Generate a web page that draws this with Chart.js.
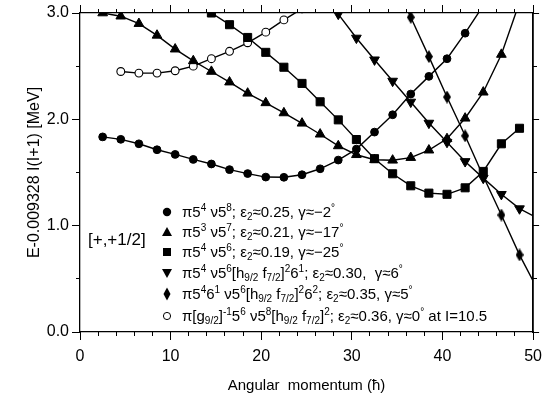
<!DOCTYPE html>
<html><head><meta charset="utf-8">
<script src="https://cdn.jsdelivr.net/npm/chart.js@4/dist/chart.umd.min.js"></script>
<style>
html,body{margin:0;padding:0;background:#fff;}
#wrap{position:relative;width:549px;height:403px;font-family:"Liberation Sans",Arial,sans-serif;color:#000;}
#c{position:absolute;left:0;top:0;}
.row{position:absolute;left:160px;height:20px;line-height:20px;font-size:15px;white-space:nowrap;}
.row svg{position:absolute;left:0;top:3px;}
.row .t{position:absolute;left:22px;top:0;}
sup{font-size:10px;vertical-align:0;position:relative;top:-6px;}
sub{font-size:10px;vertical-align:0;position:relative;top:3px;}
#sig{position:absolute;left:88px;top:230px;font-size:17px;line-height:20px;white-space:nowrap;}
</style></head><body>
<div id="wrap"><canvas id="c" width="549" height="403"></canvas><div id="sig">[+,+1/2]</div></div>
<script>
// ---- data ----
const circleI = [2.5,4.5,6.5,8.5,10.5,12.5,14.5,16.5,18.5,20.5,22.5,24.5,26.5,28.5,30.5,32.5,34.5,36.5,38.5,40.5,42.5,44.5];
const circleE = [1.835,1.812,1.77,1.714,1.67,1.623,1.58,1.527,1.49,1.457,1.455,1.479,1.535,1.617,1.72,1.88,2.043,2.238,2.404,2.57,2.81,3.07];

const triUpI = [2.5,4.5,6.5,8.5,10.5,12.5,14.5,16.5,18.5,20.5,22.5,24.5,26.5,28.5,30.5,32.5,34.5,36.5,38.5,40.5,42.5,44.5,46.5,48.5];
const triUpE = [3.0,2.97,2.90,2.79,2.66,2.55,2.45,2.35,2.245,2.155,2.06,1.963,1.86,1.75,1.667,1.62,1.615,1.64,1.71,1.817,2.01,2.255,2.61,3.1];

const squareI = [14.5,16.5,18.5,20.5,22.5,24.5,26.5,28.5,30.5,32.5,34.5,36.5,38.5,40.5,42.5,44.5,46.5,48.5];
const squareE = [3.0,2.89,2.77,2.63,2.49,2.338,2.165,1.995,1.81,1.63,1.488,1.375,1.306,1.295,1.356,1.51,1.77,1.916];

const triDownI = [26.5,28.5,30.5,32.5,34.5,36.5,38.5,40.5,42.5,44.5,46.5,48.5,50.5];
const triDownE = [3.2,2.99,2.765,2.56,2.36,2.163,1.965,1.785,1.604,1.447,1.295,1.16,1.07];

const diamondI = [34.5,36.5,38.5,40.5,42.5,44.5,46.5,48.5,50.5];
const diamondE = [3.33,2.96,2.59,2.21,1.845,1.465,1.10,0.725,0.40];

const openI = [4.5,6.5,8.5,10.5,12.5,14.5,16.5,18.5,20.5,22.5,24.5];
const openE = [2.45,2.435,2.435,2.457,2.50,2.57,2.64,2.72,2.82,2.935,3.04];

const legendLabels = [
  'π5<sup>4</sup> ν5<sup>8</sup>; ε<sub>2</sub>≈0.25, γ≈−2<sup>°</sup>',
  'π5<sup>3</sup> ν5<sup>7</sup>; ε<sub>2</sub>≈0.21, γ≈−17<sup>°</sup>',
  'π5<sup>4</sup> ν5<sup>6</sup>; ε<sub>2</sub>≈0.19, γ≈−25<sup>°</sup>',
  'π5<sup>4</sup> ν5<sup>6</sup>[h<sub>9/2</sub> f<sub>7/2</sub>]<sup>2</sup>6<sup>1</sup>; ε<sub>2</sub>≈0.30,&nbsp; γ≈6<sup>°</sup>',
  'π5<sup>4</sup>6<sup>1</sup> ν5<sup>6</sup>[h<sub>9/2</sub> f<sub>7/2</sub>]<sup>2</sup>6<sup>2</sup>; ε<sub>2</sub>≈0.35, γ≈5<sup>°</sup>',
  'π[g<sub>9/2</sub>]<sup>-1</sup>5<sup>6</sup> ν5<sup>8</sup>[h<sub>9/2</sub> f<sub>7/2</sub>]<sup>2</sup>; ε<sub>2</sub>≈0.36, γ≈0<sup>°</sup> at I=10.5'
];
const xTitle = 'Angular  momentum (ħ)';
const yTitle = 'E-0.009328 I(I+1) [MeV]';

// ---- styles ----
const FONT = "'Liberation Sans', Arial, sans-serif";
const legendRowY = [212, 232, 252, 273, 294, 316];
const legendSvg = [
  '<circle cx="7" cy="7" r="4.2" fill="#000"/>',
  '<polygon points="7,2 12,11 2,11" fill="#000"/>',
  '<rect x="3" y="3" width="8" height="8" fill="#000"/>',
  '<polygon points="2,3 12,3 7,12" fill="#000"/>',
  '<polygon points="7,0.5 10.5,7 7,13.5 3.5,7" fill="#000"/>',
  '<circle cx="7" cy="7" r="3.6" fill="#fff" stroke="#000" stroke-width="1"/>'
];

function makeDiamond(w, h) {
  const c = document.createElement('canvas');
  c.width = w; c.height = h;
  const g = c.getContext('2d');
  g.fillStyle = '#000';
  g.beginPath();
  g.moveTo(w / 2, 0); g.lineTo(w, h / 2); g.lineTo(w / 2, h); g.lineTo(0, h / 2);
  g.closePath(); g.fill();
  return c;
}

function pts(I, E) { return I.map((x, i) => ({x: x, y: E[i]})); }

function series(I, E, style) {
  return Object.assign({
    data: pts(I, E),
    borderColor: '#000',
    borderWidth: 1.4,
    pointBorderColor: '#000',
    pointBackgroundColor: '#000',
    pointBorderWidth: 1,
    tension: 0,
    clip: 0,
    xAxisID: 'x', yAxisID: 'y'
  }, style);
}

const wrap = document.getElementById('wrap');
legendLabels.forEach((txt, i) => {
  const d = document.createElement('div');
  d.className = 'row';
  d.style.top = (legendRowY[i] - 10) + 'px';
  d.innerHTML = '<svg width="14" height="14" viewBox="0 0 14 14">' + legendSvg[i] + '</svg><span class="t">' + txt + '</span>';
  wrap.appendChild(d);
});

const black = '#000';
function minorAxis(axis, pos, min, max, step, len) {
  return {
    type: 'linear', axis: axis, position: pos, min: min, max: max,
    ticks: {display: false, stepSize: step},
    grid: {drawOnChartArea: false, drawTicks: true, tickLength: len, color: black, lineWidth: 1},
    border: {display: false}
  };
}

new Chart(document.getElementById('c'), {
  type: 'line',
  data: {
    datasets: [
      series(circleI, circleE, {pointStyle: 'circle', pointRadius: 3.9}),
      series(triUpI, triUpE, {pointStyle: 'triangle', pointRadius: 5.6}),
      series(squareI, squareE, {pointStyle: 'rect', pointRadius: 5.7}),
      series(triDownI, triDownE, {pointStyle: 'triangle', pointRotation: 180, pointRadius: 5.6}),
      series(diamondI, diamondE, {pointStyle: makeDiamond(8, 13), pointRadius: 5}),
      series(openI, openE, {pointStyle: 'circle', pointRadius: 3.9, pointBackgroundColor: '#fff', pointBorderWidth: 1.1})
    ]
  },
  options: {
    responsive: false,
    animation: false,
    events: [],
    layout: {padding: 0},
    plugins: {legend: {display: false}, tooltip: {enabled: false}},
    scales: {
      x: {
        type: 'linear', position: 'bottom', min: 0, max: 50,
        ticks: {stepSize: 10, color: black, font: {family: FONT, size: 16}, padding: 7, maxRotation: 0, autoSkip: false},
        grid: {drawOnChartArea: false, tickLength: 8, color: black},
        border: {color: black, width: 1.3},
        title: {display: true, text: xTitle, color: black, font: {family: FONT, size: 15, lineHeight: 1}, padding: {top: 0, bottom: 10}},
        afterFit: s => { s.height = 71; }
      },
      y: {
        type: 'linear', position: 'left', min: 0, max: 3,
        ticks: {stepSize: 1, color: black, font: {family: FONT, size: 16}, padding: 3, callback: v => v.toFixed(1)},
        grid: {drawOnChartArea: false, tickLength: 8, color: black},
        border: {color: black, width: 1.3},
        title: {display: true, text: yTitle, color: black, font: {family: FONT, size: 16, lineHeight: 1}, padding: {top: 27, bottom: 0}},
        afterFit: s => { s.width = 80; }
      },
      xTop: {
        type: 'linear', axis: 'x', position: 'top', min: 0, max: 50,
        ticks: {display: false, stepSize: 10},
        grid: {drawOnChartArea: false, tickLength: 8, color: black},
        border: {color: black, width: 1.3},
        afterFit: s => { s.height = 13; }
      },
      yRight: {
        type: 'linear', axis: 'y', position: 'right', min: 0, max: 3,
        ticks: {display: false, stepSize: 1},
        grid: {drawOnChartArea: false, tickLength: 6, color: black},
        border: {color: black, width: 1.8},
        afterFit: s => { s.width = 9; }
      },
      xMinB: minorAxis('x', {y: 0}, 0, 50, 2, 4),
      xMinT: minorAxis('x', {y: 3}, 0, 50, 2, -4),
      yMinL: minorAxis('y', {x: 0}, 0, 3, 0.5, 4),
      yMinR: minorAxis('y', {x: 50}, 0, 3, 0.5, -4)
    }
  }
});
</script>
</body></html>
